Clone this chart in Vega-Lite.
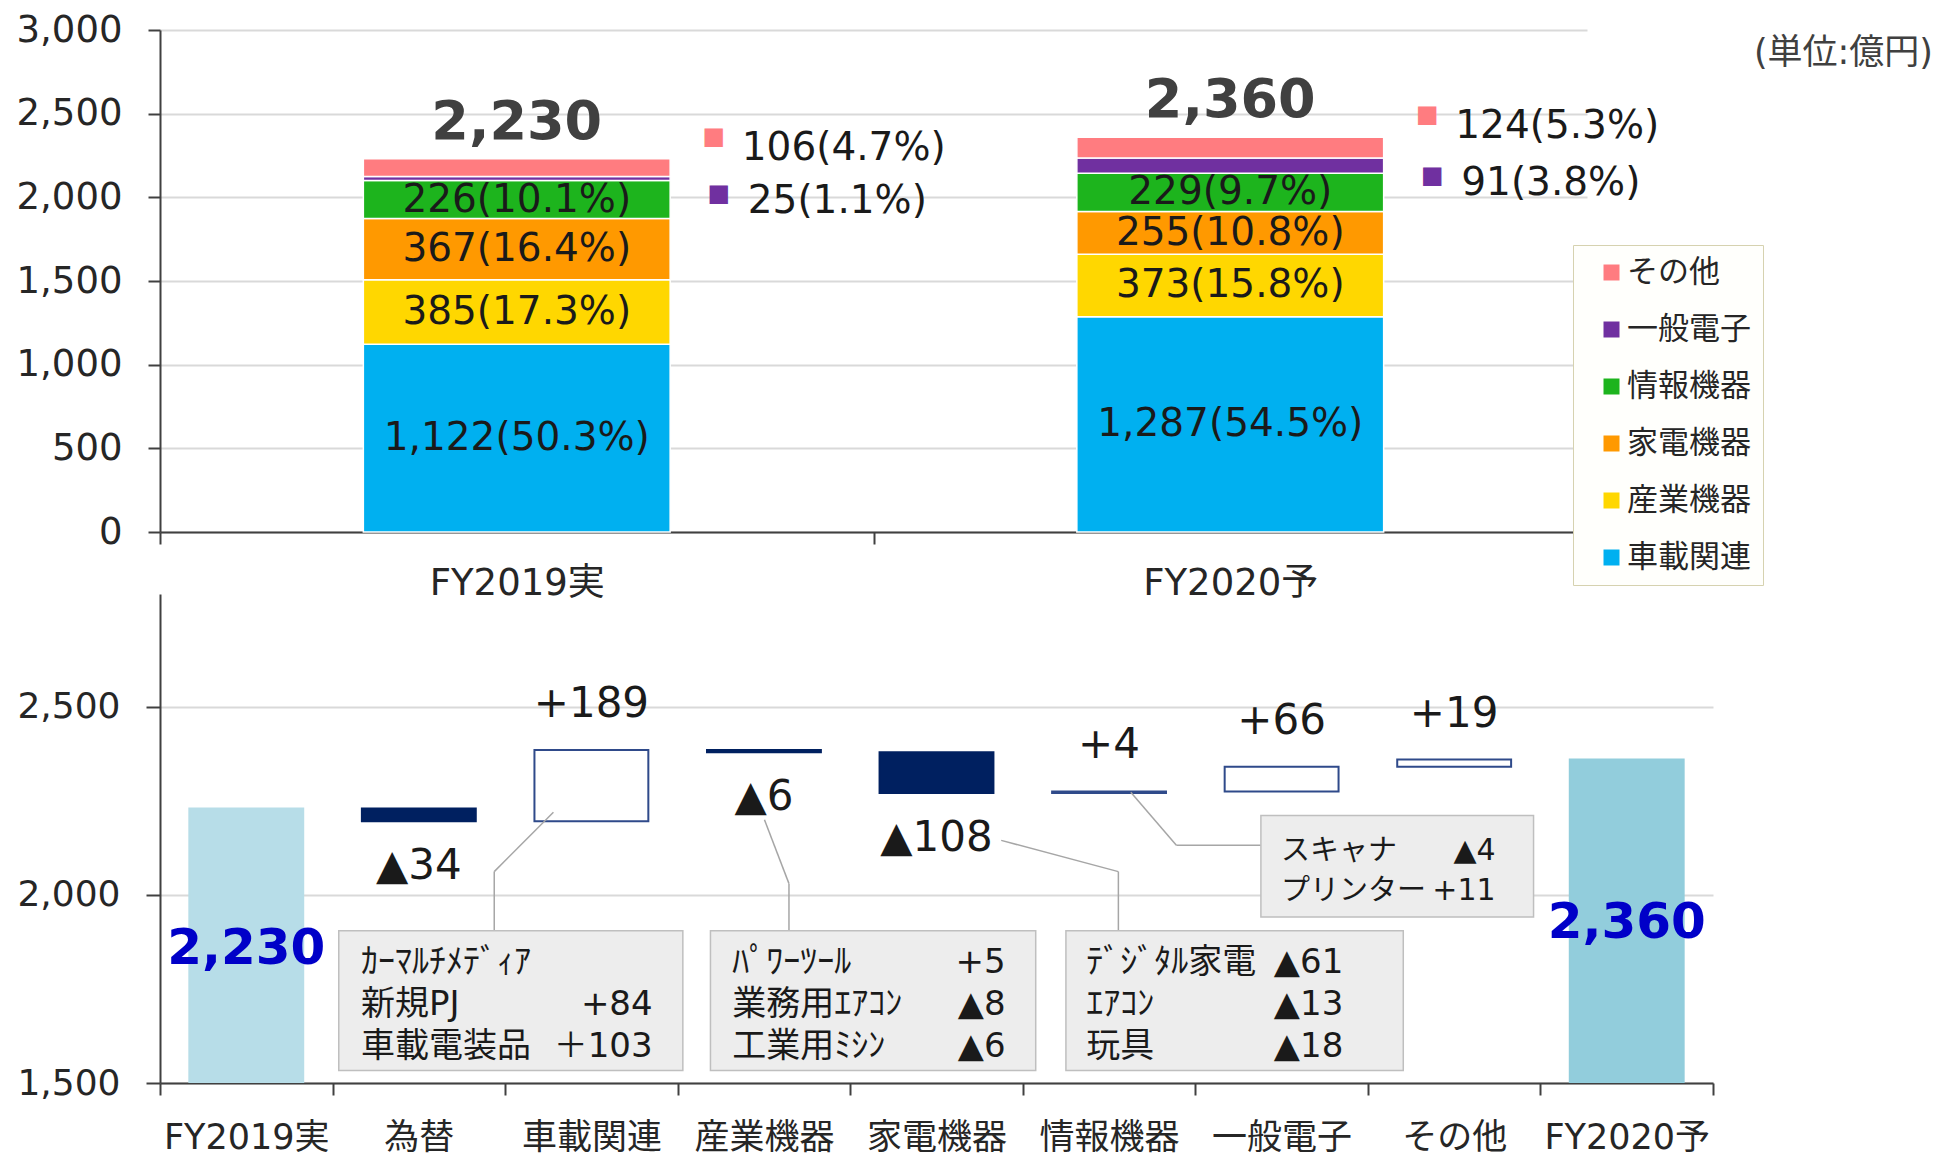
{
  "$schema": "https://vega.github.io/schema/vega-lite/v6.json",
  "background": "white",
  "padding": {"left": 16, "top": 11, "right": 5, "bottom": 0},
  "bounds": "flush",
  "spacing": 62,
  "config": {
    "font": "DejaVu Sans, Noto Sans CJK JP",
    "view": {"stroke": null},
    "axis": {"domainColor": "#404040", "domainWidth": 2, "tickColor": "#404040", "tickWidth": 2, "gridColor": "#D9D9D9", "gridWidth": 2, "labelColor": "#262626", "title": null}
  },
  "datasets": {
    "segments": [
      {"fy": "FY2019実", "seg": "車載関連", "rank": 1, "value": 1122, "label": "1,122(50.3%)"},
      {"fy": "FY2019実", "seg": "産業機器", "rank": 2, "value": 385, "label": "385(17.3%)"},
      {"fy": "FY2019実", "seg": "家電機器", "rank": 3, "value": 367, "label": "367(16.4%)"},
      {"fy": "FY2019実", "seg": "情報機器", "rank": 4, "value": 226, "label": "226(10.1%)"},
      {"fy": "FY2019実", "seg": "一般電子", "rank": 5, "value": 25, "label": "25(1.1%)"},
      {"fy": "FY2019実", "seg": "その他", "rank": 6, "value": 106, "label": "106(4.7%)"},
      {"fy": "FY2020予", "seg": "車載関連", "rank": 1, "value": 1287, "label": "1,287(54.5%)"},
      {"fy": "FY2020予", "seg": "産業機器", "rank": 2, "value": 373, "label": "373(15.8%)"},
      {"fy": "FY2020予", "seg": "家電機器", "rank": 3, "value": 255, "label": "255(10.8%)"},
      {"fy": "FY2020予", "seg": "情報機器", "rank": 4, "value": 229, "label": "229(9.7%)"},
      {"fy": "FY2020予", "seg": "一般電子", "rank": 5, "value": 91, "label": "91(3.8%)"},
      {"fy": "FY2020予", "seg": "その他", "rank": 6, "value": 124, "label": "124(5.3%)"}
    ],
    "totals": [
      {"fy": "FY2019実", "total": 2230},
      {"fy": "FY2020予", "total": 2360}
    ],
    "waterfall": [
      {"item": "FY2019実", "kind": "total19", "start": 0, "end": 2230, "label": "2,230"},
      {"item": "為替", "kind": "neg", "start": 2230, "end": 2196, "label": "▲34"},
      {"item": "車載関連", "kind": "pos", "start": 2196, "end": 2385, "label": "+189"},
      {"item": "産業機器", "kind": "neg", "start": 2385, "end": 2379, "label": "▲6"},
      {"item": "家電機器", "kind": "neg", "start": 2379, "end": 2271, "label": "▲108"},
      {"item": "情報機器", "kind": "pos", "start": 2271, "end": 2275, "label": "+4"},
      {"item": "一般電子", "kind": "pos", "start": 2275, "end": 2341, "label": "+66"},
      {"item": "その他", "kind": "pos", "start": 2341, "end": 2360, "label": "+19"},
      {"item": "FY2020予", "kind": "total20", "start": 0, "end": 2360, "label": "2,360"}
    ],
    "notes": [
      {"seg": "車載関連", "names": ["ｶｰﾏﾙﾁﾒﾃﾞｨｱ", "新規PJ", "車載電装品"], "amounts": ["", "+84", "＋103"]},
      {"seg": "産業機器", "names": ["ﾊﾟﾜｰﾂｰﾙ", "業務用ｴｱｺﾝ", "工業用ﾐｼﾝ"], "amounts": ["+5", "▲8", "▲6"]},
      {"seg": "家電機器", "names": ["ﾃﾞｼﾞﾀﾙ家電", "ｴｱｺﾝ", "玩具"], "amounts": ["▲61", "▲13", "▲18"]},
      {"seg": "情報機器", "names": ["スキャナ", "プリンター"], "amounts": ["▲4", "+11"]}
    ]
  },
  "vconcat": [
    {
      "width": 1427,
      "height": 502,
      "data": {"name": "segments"},
      "title": {"text": "(単位:億円)", "anchor": "end", "frame": "group", "fontSize": 35, "fontWeight": "normal", "color": "#404040", "dx": 346, "dy": 64},
      "layer": [
        {
          "transform": [{"stack": "value", "groupby": ["fy"], "sort": [{"field": "rank", "order": "ascending"}], "as": ["v0", "v1"]}],
          "mark": {"type": "bar", "stroke": "white", "strokeWidth": 1.5, "width": {"band": 0.43}},
          "encoding": {
            "x": {"field": "fy", "type": "nominal", "sort": ["FY2019実", "FY2020予"], "scale": {"paddingInner": 0, "paddingOuter": 0}, "axis": {"labelFontSize": 37, "labelPadding": 21, "tickSize": 12, "tickBand": "extent", "labelAngle": 0, "title": null}},
            "y": {"field": "v0", "type": "quantitative", "scale": {"domain": [0, 3000], "nice": false}, "axis": {"values": [0, 500, 1000, 1500, 2000, 2500, 3000], "format": ",.0f", "labelFontSize": 37, "labelPadding": 26, "tickSize": 12, "grid": true, "title": null}},
            "y2": {"field": "v1"},
            "color": {"field": "seg", "type": "nominal", "scale": {"domain": ["車載関連", "産業機器", "家電機器", "情報機器", "一般電子", "その他"], "range": ["#00B0F0", "#FFD700", "#FF9900", "#1DB41D", "#7030A0", "#FF7C80"]},
              "legend": {"orient": "none", "legendX": 1413, "legendY": 215, "values": ["その他", "一般電子", "情報機器", "家電機器", "産業機器", "車載関連"], "title": null, "fillColor": "#FFFFFC", "strokeColor": "#D6D2B0", "padding": 12, "symbolType": "square", "symbolSize": 256, "symbolStrokeWidth": 0, "labelFontSize": 31, "labelColor": "#262626", "labelFont": "Noto Sans CJK JP", "rowPadding": 25, "symbolOffset": 11, "labelOffset": 0}}
          }
        },
        {
          "transform": [
            {"stack": "value", "groupby": ["fy"], "sort": [{"field": "rank", "order": "ascending"}], "as": ["v0", "v1"]},
            {"filter": {"field": "rank", "lte": 4}},
            {"fold": ["v0", "v1"], "as": ["edge", "pos"]},
            {"aggregate": [{"op": "mean", "field": "pos", "as": "mid"}], "groupby": ["fy", "seg", "label"]}
          ],
          "mark": {"type": "text", "fontSize": 39, "baseline": "middle", "color": "#1A1A1A"},
          "encoding": {
            "x": {"field": "fy", "type": "nominal", "sort": ["FY2019実", "FY2020予"]},
            "y": {"field": "mid", "type": "quantitative"},
            "text": {"field": "label"}
          }
        },
        {
          "data": {"name": "totals"},
          "mark": {"type": "text", "fontSize": 54, "fontWeight": "bold", "baseline": "middle", "color": "#404040", "dy": -36},
          "encoding": {
            "x": {"field": "fy", "type": "nominal", "sort": ["FY2019実", "FY2020予"]},
            "y": {"field": "total", "type": "quantitative"},
            "text": {"field": "total", "format": ","}
          }
        },
        {
          "transform": [
            {"stack": "value", "groupby": ["fy"], "sort": [{"field": "rank", "order": "ascending"}], "as": ["v0", "v1"]},
            {"filter": {"field": "rank", "equal": 6}}
          ],
          "mark": {"type": "text", "fontSize": 24, "baseline": "middle", "dx": 197, "dy": -22},
          "encoding": {
            "x": {"field": "fy", "type": "nominal", "sort": ["FY2019実", "FY2020予"]},
            "y": {"field": "v1", "type": "quantitative"},
            "text": {"value": "■"},
            "color": {"field": "seg", "type": "nominal"}
          }
        },
        {
          "transform": [
            {"stack": "value", "groupby": ["fy"], "sort": [{"field": "rank", "order": "ascending"}], "as": ["v0", "v1"]},
            {"filter": {"field": "rank", "equal": 6}}
          ],
          "mark": {"type": "text", "fontSize": 39, "align": "left", "baseline": "middle", "dx": 225, "dy": -11, "color": "#1A1A1A"},
          "encoding": {
            "x": {"field": "fy", "type": "nominal", "sort": ["FY2019実", "FY2020予"]},
            "y": {"field": "v1", "type": "quantitative"},
            "text": {"field": "label"}
          }
        },
        {
          "transform": [
            {"stack": "value", "groupby": ["fy"], "sort": [{"field": "rank", "order": "ascending"}], "as": ["v0", "v1"]},
            {"filter": {"field": "rank", "equal": 5}}
          ],
          "mark": {"type": "text", "fontSize": 24, "baseline": "middle", "dx": 202, "dy": 18},
          "encoding": {
            "x": {"field": "fy", "type": "nominal", "sort": ["FY2019実", "FY2020予"]},
            "y": {"field": "v1", "type": "quantitative"},
            "text": {"value": "■"},
            "color": {"field": "seg", "type": "nominal"}
          }
        },
        {
          "transform": [
            {"stack": "value", "groupby": ["fy"], "sort": [{"field": "rank", "order": "ascending"}], "as": ["v0", "v1"]},
            {"filter": {"field": "rank", "equal": 5}}
          ],
          "mark": {"type": "text", "fontSize": 39, "align": "left", "baseline": "middle", "dx": 231, "dy": 25, "color": "#1A1A1A"},
          "encoding": {
            "x": {"field": "fy", "type": "nominal", "sort": ["FY2019実", "FY2020予"]},
            "y": {"field": "v1", "type": "quantitative"},
            "text": {"field": "label"}
          }
        }
      ]
    },
    {
      "width": 1553,
      "height": 489,
      "resolve": {"scale": {"x": "independent"}, "axis": {"x": "independent"}},
      "layer": [
        {
          "data": {"name": "waterfall"},
          "layer": [
            {
              "mark": {"type": "bar", "clip": true, "strokeWidth": 2, "width": {"band": 0.66}},
              "encoding": {
                "x": {"field": "item", "type": "nominal", "sort": ["FY2019実", "為替", "車載関連", "産業機器", "家電機器", "情報機器", "一般電子", "その他", "FY2020予"], "scale": {"paddingInner": 0, "paddingOuter": 0}, "axis": {"labelFontSize": 35, "labelPadding": 25, "tickSize": 12, "tickBand": "extent", "labelAngle": 0, "title": null}},
                "y": {"field": "start", "type": "quantitative", "scale": {"domain": [1500, 2800], "nice": false, "zero": false}, "axis": {"values": [1500, 2000, 2500], "format": ",.0f", "labelFontSize": 36, "labelPadding": 26, "tickSize": 14, "grid": true, "title": null}},
                "y2": {"field": "end"},
                "fill": {"field": "kind", "type": "nominal", "scale": {"domain": ["total19", "total20", "neg", "pos"], "range": ["#B7DDE8", "#92CDDC", "#002060", "#FFFFFF"]}, "legend": null},
                "stroke": {"field": "kind", "type": "nominal", "scale": {"domain": ["total19", "total20", "neg", "pos"], "range": ["#B7DDE8", "#92CDDC", "#002060", "#2F4A8A"]}, "legend": null}
              }
            },
            {
              "transform": [{"filter": {"field": "kind", "equal": "neg"}}],
              "mark": {"type": "text", "fontSize": 42, "baseline": "middle", "dy": 45, "color": "#1A1A1A"},
              "encoding": {
                "x": {"field": "item", "type": "nominal", "sort": ["FY2019実", "為替", "車載関連", "産業機器", "家電機器", "情報機器", "一般電子", "その他", "FY2020予"]},
                "y": {"field": "end", "type": "quantitative"},
                "text": {"field": "label"}
              }
            },
            {
              "transform": [{"filter": {"field": "kind", "equal": "pos"}}],
              "mark": {"type": "text", "fontSize": 42, "baseline": "middle", "dy": -46, "color": "#1A1A1A"},
              "encoding": {
                "x": {"field": "item", "type": "nominal", "sort": ["FY2019実", "為替", "車載関連", "産業機器", "家電機器", "情報機器", "一般電子", "その他", "FY2020予"]},
                "y": {"field": "end", "type": "quantitative"},
                "text": {"field": "label"}
              }
            },
            {
              "transform": [{"filter": {"field": "kind", "equal": "total19"}}],
              "mark": {"type": "text", "fontSize": 50, "fontWeight": "bold", "baseline": "middle", "dy": 141, "color": "#0000C8"},
              "encoding": {
                "x": {"field": "item", "type": "nominal", "sort": ["FY2019実", "為替", "車載関連", "産業機器", "家電機器", "情報機器", "一般電子", "その他", "FY2020予"]},
                "y": {"field": "end", "type": "quantitative"},
                "text": {"field": "label"}
              }
            },
            {
              "transform": [{"filter": {"field": "kind", "equal": "total20"}}],
              "mark": {"type": "text", "fontSize": 50, "fontWeight": "bold", "baseline": "middle", "dy": 163, "color": "#0000C8"},
              "encoding": {
                "x": {"field": "item", "type": "nominal", "sort": ["FY2019実", "為替", "車載関連", "産業機器", "家電機器", "情報機器", "一般電子", "その他", "FY2020予"]},
                "y": {"field": "end", "type": "quantitative"},
                "text": {"field": "label"}
              }
            }
          ]
        },
        {
          "layer": [
            {
              "data": {"name": "notes"},
              "transform": [{"filter": {"field": "seg", "equal": "車載関連"}}],
              "layer": [
                {"mark": {"type": "rule", "color": "#A6A6A6", "strokeWidth": 1.5}, "encoding": {"x": {"datum": 1.937, "type": "quantitative", "scale": {"domain": [0, 9], "nice": false, "zero": false}, "axis": null}, "x2": {"datum": 1.937}, "y": {"datum": 1905, "type": "quantitative"}, "y2": {"datum": 2062}}},
                {"mark": {"type": "rule", "color": "#A6A6A6", "strokeWidth": 1.5}, "encoding": {"x": {"datum": 1.937, "type": "quantitative", "axis": null}, "x2": {"datum": 2.28}, "y": {"datum": 2062, "type": "quantitative"}, "y2": {"datum": 2220}}},
                {"mark": {"type": "rect", "fill": "#EDEDED", "stroke": "#BFBFBF", "strokeWidth": 1.5}, "encoding": {"x": {"datum": 1.036, "type": "quantitative", "axis": null}, "x2": {"datum": 3.03}, "y": {"datum": 1533, "type": "quantitative"}, "y2": {"datum": 1905}}},
                {"mark": {"type": "text", "align": "left", "baseline": "middle", "fontSize": 34, "lineHeight": 42, "color": "#1A1A1A"}, "encoding": {"x": {"datum": 1.165, "type": "quantitative", "axis": null}, "y": {"datum": 1820, "type": "quantitative"}, "text": {"field": "names"}}},
                {"mark": {"type": "text", "align": "right", "baseline": "middle", "fontSize": 34, "lineHeight": 42, "color": "#1A1A1A"}, "encoding": {"x": {"datum": 2.855, "type": "quantitative", "axis": null}, "y": {"datum": 1820, "type": "quantitative"}, "text": {"field": "amounts"}}}
              ]
            },
            {
              "data": {"name": "notes"},
              "transform": [{"filter": {"field": "seg", "equal": "産業機器"}}],
              "layer": [
                {"mark": {"type": "rule", "color": "#A6A6A6", "strokeWidth": 1.5}, "encoding": {"x": {"datum": 3.645, "type": "quantitative", "axis": null}, "x2": {"datum": 3.645}, "y": {"datum": 1905, "type": "quantitative"}, "y2": {"datum": 2030}}},
                {"mark": {"type": "rule", "color": "#A6A6A6", "strokeWidth": 1.5}, "encoding": {"x": {"datum": 3.645, "type": "quantitative", "axis": null}, "x2": {"datum": 3.503}, "y": {"datum": 2030, "type": "quantitative"}, "y2": {"datum": 2200}}},
                {"mark": {"type": "rect", "fill": "#EDEDED", "stroke": "#BFBFBF", "strokeWidth": 1.5}, "encoding": {"x": {"datum": 3.19, "type": "quantitative", "axis": null}, "x2": {"datum": 5.075}, "y": {"datum": 1533, "type": "quantitative"}, "y2": {"datum": 1905}}},
                {"mark": {"type": "text", "align": "left", "baseline": "middle", "fontSize": 34, "lineHeight": 42, "color": "#1A1A1A"}, "encoding": {"x": {"datum": 3.317, "type": "quantitative", "axis": null}, "y": {"datum": 1820, "type": "quantitative"}, "text": {"field": "names"}}},
                {"mark": {"type": "text", "align": "right", "baseline": "middle", "fontSize": 34, "lineHeight": 42, "color": "#1A1A1A"}, "encoding": {"x": {"datum": 4.9, "type": "quantitative", "axis": null}, "y": {"datum": 1820, "type": "quantitative"}, "text": {"field": "amounts"}}}
              ]
            },
            {
              "data": {"name": "notes"},
              "transform": [{"filter": {"field": "seg", "equal": "家電機器"}}],
              "layer": [
                {"mark": {"type": "rule", "color": "#A6A6A6", "strokeWidth": 1.5}, "encoding": {"x": {"datum": 5.554, "type": "quantitative", "axis": null}, "x2": {"datum": 5.554}, "y": {"datum": 1905, "type": "quantitative"}, "y2": {"datum": 2062}}},
                {"mark": {"type": "rule", "color": "#A6A6A6", "strokeWidth": 1.5}, "encoding": {"x": {"datum": 5.554, "type": "quantitative", "axis": null}, "x2": {"datum": 4.875}, "y": {"datum": 2062, "type": "quantitative"}, "y2": {"datum": 2145}}},
                {"mark": {"type": "rect", "fill": "#EDEDED", "stroke": "#BFBFBF", "strokeWidth": 1.5}, "encoding": {"x": {"datum": 5.25, "type": "quantitative", "axis": null}, "x2": {"datum": 7.205}, "y": {"datum": 1533, "type": "quantitative"}, "y2": {"datum": 1905}}},
                {"mark": {"type": "text", "align": "left", "baseline": "middle", "fontSize": 34, "lineHeight": 42, "color": "#1A1A1A"}, "encoding": {"x": {"datum": 5.368, "type": "quantitative", "axis": null}, "y": {"datum": 1820, "type": "quantitative"}, "text": {"field": "names"}}},
                {"mark": {"type": "text", "align": "left", "baseline": "middle", "fontSize": 34, "lineHeight": 42, "color": "#1A1A1A"}, "encoding": {"x": {"datum": 6.455, "type": "quantitative", "axis": null}, "y": {"datum": 1820, "type": "quantitative"}, "text": {"field": "amounts"}}}
              ]
            },
            {
              "data": {"name": "notes"},
              "transform": [{"filter": {"field": "seg", "equal": "情報機器"}}],
              "layer": [
                {"mark": {"type": "rule", "color": "#A6A6A6", "strokeWidth": 1.5}, "encoding": {"x": {"datum": 6.38, "type": "quantitative", "axis": null}, "x2": {"datum": 5.89}, "y": {"datum": 2132, "type": "quantitative"}, "y2": {"datum": 2132}}},
                {"mark": {"type": "rule", "color": "#A6A6A6", "strokeWidth": 1.5}, "encoding": {"x": {"datum": 5.89, "type": "quantitative", "axis": null}, "x2": {"datum": 5.626}, "y": {"datum": 2132, "type": "quantitative"}, "y2": {"datum": 2273}}},
                {"mark": {"type": "rect", "fill": "#EDEDED", "stroke": "#BFBFBF", "strokeWidth": 1.5}, "encoding": {"x": {"datum": 6.38, "type": "quantitative", "axis": null}, "x2": {"datum": 7.96}, "y": {"datum": 1941, "type": "quantitative"}, "y2": {"datum": 2211}}},
                {"mark": {"type": "text", "align": "left", "baseline": "middle", "fontSize": 29, "lineHeight": 40, "color": "#1A1A1A"}, "encoding": {"x": {"datum": 6.497, "type": "quantitative", "axis": null}, "y": {"datum": 2118, "type": "quantitative"}, "text": {"field": "names"}}},
                {"mark": {"type": "text", "align": "right", "baseline": "middle", "fontSize": 30, "lineHeight": 40, "color": "#1A1A1A"}, "encoding": {"x": {"datum": 7.74, "type": "quantitative", "axis": null}, "y": {"datum": 2118, "type": "quantitative"}, "text": {"field": "amounts"}}}
              ]
            }
          ]
        }
      ]
    }
  ]
}
